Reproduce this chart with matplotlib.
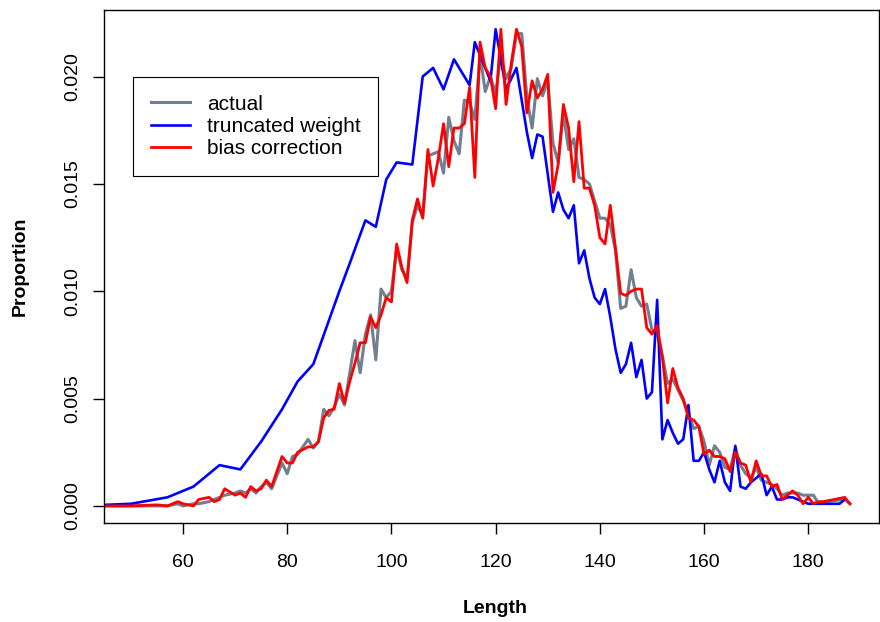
import matplotlib
matplotlib.use("Agg")
import matplotlib.pyplot as plt

plt.rcParams['font.family'] = ['Liberation Sans', 'DejaVu Sans']

# truncated weight
tw_x = [45, 50, 57, 62, 67, 71, 75, 79, 82, 85, 90, 92, 95, 97, 99, 101, 104, 106, 108, 110,
        112, 115, 116, 118, 119, 120, 122, 124, 126, 127, 128, 129, 131, 132, 133, 134, 135,
        136, 137, 138, 139, 140, 141, 142, 143, 144, 145, 146, 147, 148, 149, 150, 151, 152,
        153, 154, 155, 156, 157, 158, 159, 160, 161, 162, 163, 164, 165, 166, 167, 168, 169,
        170, 171, 172, 173, 174, 175, 176, 177, 178, 180, 181, 186, 187]
tw_y = [0.00005, 0.0001, 0.0004, 0.0009, 0.0019, 0.0017, 0.0030, 0.0045, 0.0058, 0.0066,
        0.0100, 0.0113, 0.0133, 0.0130, 0.0152, 0.0160, 0.0159, 0.0200, 0.0204, 0.0194,
        0.0208, 0.0196, 0.0216, 0.0204, 0.0198, 0.0222, 0.0194, 0.0204, 0.0174, 0.0162,
        0.0173, 0.0172, 0.0137, 0.0146, 0.0138, 0.0134, 0.0140, 0.0113, 0.0119, 0.0106,
        0.0097, 0.0094, 0.0101, 0.0088, 0.0073, 0.0062, 0.0066, 0.0076, 0.0060, 0.0068,
        0.0050, 0.0053, 0.0096, 0.0031, 0.0040, 0.0034, 0.0029, 0.0031, 0.0047, 0.0021,
        0.0021, 0.0025, 0.0017, 0.0011, 0.0021, 0.0011, 0.0007, 0.0028, 0.0009, 0.0008,
        0.0011, 0.0013, 0.0015, 0.0005, 0.0009, 0.0003, 0.0003, 0.0004, 0.0004, 0.0003,
        0.0001, 0.0001, 0.0001, 0.0003]

# lengths for actual and bias correction
len_x = [45, 50, 55, 57, 59, 60, 62, 63, 65, 66, 67, 68, 70, 71, 72, 73, 74, 75, 76, 77,
         79, 80, 81, 82, 84, 85, 86, 87, 88, 89, 90, 91, 92, 93, 94, 95, 96, 97, 98, 99,
         100, 101, 102, 103, 104, 105, 106, 107, 108, 109, 110, 111, 112, 113, 114, 115,
         116, 117, 118, 119, 120, 121, 122, 123, 124, 125, 126, 127, 128, 129, 130, 131,
         132, 133, 134, 135, 136, 137, 138, 139, 140, 141, 142, 143, 144, 145, 146, 147,
         148, 149, 150, 151, 152, 153, 154, 155, 156, 157, 158, 159, 160, 161, 162, 163,
         164, 165, 166, 167, 168, 169, 170, 171, 172, 173, 174, 175, 176, 177, 178, 179,
         180, 181, 182, 183, 187, 188]

actual_y = [0.0, 0.0, 0.0, 0.0, 0.0001, 0.0, 0.0001, 0.0001, 0.0002, 0.0003, 0.0004, 0.0005,
            0.0006, 0.0007, 0.0006, 0.0008, 0.0006, 0.0009, 0.0011, 0.0008, 0.0020, 0.0015,
            0.0023, 0.0024, 0.0031, 0.0027, 0.0030, 0.0045, 0.0042, 0.0046, 0.0052, 0.0047,
            0.0062, 0.0077, 0.0062, 0.0080, 0.0089, 0.0068, 0.0101, 0.0097, 0.0100, 0.0120,
            0.0110, 0.0106, 0.0132, 0.0140, 0.0135, 0.0163, 0.0164, 0.0165, 0.0155, 0.0181,
            0.0170, 0.0164, 0.0189, 0.0188, 0.0180, 0.0210, 0.0193, 0.0200, 0.0192, 0.0210,
            0.0199, 0.0204, 0.0220, 0.0220, 0.0190, 0.0176, 0.0199, 0.0191, 0.0198, 0.0169,
            0.0160, 0.0183, 0.0166, 0.0171, 0.0153, 0.0152, 0.0150, 0.0142, 0.0134, 0.0134,
            0.0131, 0.0119, 0.0092, 0.0093, 0.0110, 0.0097, 0.0093, 0.0094, 0.0082, 0.0080,
            0.0070, 0.0057, 0.0059, 0.0054, 0.0049, 0.0043, 0.0036, 0.0037, 0.0030, 0.0019,
            0.0028, 0.0025, 0.0018, 0.0017, 0.0027, 0.0019, 0.0015, 0.0013, 0.0018, 0.0012,
            0.0011, 0.0010, 0.0008, 0.0005, 0.0006, 0.0006, 0.0006, 0.0005, 0.0005, 0.0005,
            0.0001, 0.0002, 0.0003, 0.0001]

bias_y = [0.0, 0.0, 0.00005, 0.0, 0.0002, 0.0001, 0.0, 0.0003, 0.0004, 0.0002, 0.0003, 0.0008,
          0.0005, 0.0006, 0.0004, 0.0009, 0.0007, 0.0008, 0.0012, 0.0009, 0.0023, 0.0020,
          0.0020, 0.0025, 0.00275, 0.00275, 0.0030, 0.0041, 0.00445, 0.0045, 0.0057, 0.0048,
          0.0058, 0.00665, 0.0076, 0.0076, 0.0088, 0.0083, 0.0089, 0.0097, 0.0095, 0.0122,
          0.0111, 0.0104, 0.0133, 0.0143, 0.0134, 0.0166, 0.0149, 0.0162, 0.0178, 0.0158,
          0.0176, 0.0176, 0.0178, 0.0195, 0.0153, 0.0216, 0.0204, 0.0200, 0.0185, 0.0222,
          0.0187, 0.0206, 0.0222, 0.0214, 0.0183, 0.0198, 0.0190, 0.0194, 0.0201, 0.0146,
          0.0159, 0.0187, 0.0176, 0.0151, 0.0179, 0.0148, 0.0148, 0.0140, 0.0125, 0.0122,
          0.0140, 0.0120, 0.0099, 0.0098, 0.0100, 0.0101, 0.0101, 0.0083, 0.0080, 0.0084,
          0.0069, 0.0048, 0.0064, 0.0055, 0.0050, 0.0041, 0.0040, 0.0037, 0.0024, 0.0026,
          0.0023, 0.0023, 0.0022, 0.0016, 0.0025, 0.0020, 0.0019, 0.0011, 0.0021, 0.0014,
          0.0014, 0.0009, 0.0010, 0.0003, 0.0005, 0.0007, 0.0005, 0.0001, 0.0004, 0.0001,
          0.0002, 0.0002, 0.0004, 0.0001]

x_ticks = [60, 80, 100, 120, 140, 160, 180]
y_ticks = [0.000, 0.005, 0.010, 0.015, 0.020]
y_tick_labels = ["0.000", "0.005", "0.010", "0.015", "0.020"]

fig = plt.figure(figsize=(8.8, 6.22), dpi=100)
ax = fig.add_axes([0.118, 0.159, 0.881, 0.825])

ax.plot(len_x, actual_y, color='#708090', lw=2.2, label='actual')
ax.plot(tw_x, tw_y, color='#0000ff', lw=1.9, label='truncated weight')
ax.plot(len_x, bias_y, color='#ff0000', lw=2.0, label='bias correction')

ax.set_xlim(44.8, 193.6)
ax.set_ylim(-0.0008, 0.0231)
ax.set_xticks(x_ticks)
ax.set_yticks(y_ticks)
ax.set_yticklabels(y_tick_labels, rotation=90, va='center')
ax.tick_params(axis='both', direction='out', length=8, width=1, labelsize=14)
ax.tick_params(axis='x', pad=14)
ax.tick_params(axis='y', pad=8)
for s in ax.spines.values():
    s.set_linewidth(1.0)

ax.set_xlabel('Length', fontsize=14, fontweight='bold')
ax.set_ylabel('Proportion', fontsize=14, fontweight='bold')
ax.xaxis.set_label_coords((495 - 104) / 775, (523 - 608) / 513)
ax.yaxis.set_label_coords((20 - 104) / 775, 0.5)
ax.xaxis.label.set_va('center')
ax.yaxis.label.set_va('center')

leg = ax.legend(loc='upper left', bbox_to_anchor=((133 - 104) / 775, (523 - 77) / 513),
                borderaxespad=0, fontsize=15, frameon=True, fancybox=False,
                edgecolor='black', framealpha=1, handlelength=1.9, handletextpad=0.8,
                borderpad=0.85, labelspacing=0.15)
leg.get_frame().set_linewidth(0.8)

fig.savefig('out.png', dpi=100)
